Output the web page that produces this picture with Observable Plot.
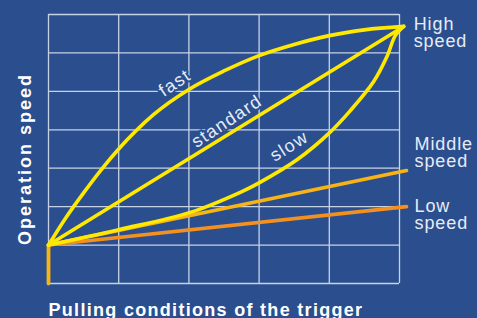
<!DOCTYPE html>
<html>
<head>
<meta charset="utf-8">
<script src="https://cdn.jsdelivr.net/npm/d3@7"></script>
<script src="https://cdn.jsdelivr.net/npm/@observablehq/plot@0.6"></script>
<style>
  html, body { margin: 0; padding: 0; background: #2b4f8e; }
  body { width: 477px; height: 318px; overflow: hidden; }
  svg { display: block; }
</style>
</head>
<body>
<div id="chart"></div>
<script>
// Grid positions (unlabeled)
const xGrid = [0, 1, 2, 3, 4, 5];
const yGrid = [0, 1, 2, 3, 4, 5, 6, 7];

// Curves
const fastX = [0, 0.25, 0.5, 0.75, 1.0, 1.5, 2.0, 2.5, 3.0, 3.5, 4.0, 4.5, 5.06];
const fastY = [1, 1.72, 2.36, 2.96, 3.5, 4.4, 5.05, 5.53, 5.93, 6.22, 6.45, 6.6, 6.69];
const standardX = [0, 5.06];
const standardY = [1, 6.69];
const slowX = [0, 1.0, 2.02, 2.74, 3.0, 3.54, 3.99, 4.3, 4.63, 4.82, 4.94, 5.06];
const slowY = [1, 1.4, 1.85, 2.38, 2.62, 3.22, 3.9, 4.5, 5.25, 5.9, 6.45, 6.69];
const middleX = [0, 5.1];
const middleY = [1, 2.94];
const lowX = [0, 5.1];
const lowY = [1, 2.0];
const startX = [0, 0];
const startY = [0, 1];

// Curve labels
const curveLabels = ["fast", "standard", "slow"];
const curveLabelX = [1.8, 2.54, 3.43];
const curveLabelY = [5.22, 4.22, 3.57];
const curveLabelAngle = [-33.5, -33.5, -32];

const xTitle = "Pulling conditions of the trigger";
const yTitle = "Operation speed";
const speedLabels = ["High\nspeed", "Middle\nspeed", "Low\nspeed"];

const BG = "#2b4f8e";
const GRID = "#c8d2e6";
const YELLOW = "#ffe900";
const AMBER = "#f8b316";
const ORANGE = "#f3901f";
const LABEL = "#e6ecf6";

const pts = (xs, ys) => xs.map((x, i) => ({x, y: ys[i]}));

const chart = Plot.plot({
  width: 477,
  height: 318,
  marginLeft: 48,
  marginRight: 78,
  marginTop: 14,
  marginBottom: 35,
  style: {background: BG, fontFamily: "Liberation Sans, Arial, sans-serif", overflow: "visible"},
  x: {domain: [0, 5], axis: null},
  y: {domain: [0, 7], axis: null},
  marks: [
    Plot.gridX(xGrid, {stroke: GRID, strokeOpacity: 1, strokeWidth: 1.3}),
    Plot.gridY(yGrid, {stroke: GRID, strokeOpacity: 1, strokeWidth: 1.3}),
    Plot.line(pts(lowX, lowY), {x: "x", y: "y", stroke: ORANGE, strokeWidth: 3.6}),
    Plot.line(pts(middleX, middleY), {x: "x", y: "y", stroke: AMBER, strokeWidth: 3.6}),
    Plot.line(pts(startX, startY), {x: "x", y: "y", stroke: AMBER, strokeWidth: 3.8}),
    Plot.line(pts(standardX, standardY), {x: "x", y: "y", stroke: YELLOW, strokeWidth: 3.6}),
    Plot.line(pts(fastX, fastY), {x: "x", y: "y", stroke: YELLOW, strokeWidth: 3.6, curve: "monotone-x"}),
    Plot.line(pts(slowX, slowY), {x: "x", y: "y", stroke: YELLOW, strokeWidth: 3.6, curve: "catmull-rom"}),
    Plot.text(curveLabels.map((t, i) => ({t, x: curveLabelX[i], y: curveLabelY[i], a: curveLabelAngle[i]})), {
      x: "x", y: "y", text: "t", rotate: "a", fill: LABEL, fontSize: 18,
      stroke: BG, strokeWidth: 4
    }),
    Plot.text([{t: speedLabels[0], x: standardX[1], y: standardY[1]}], {
      x: "x", y: "y", text: "t", textAnchor: "start", lineAnchor: "top", dx: 10, dy: -9,
      fill: LABEL, fontSize: 18, lineHeight: 0.95
    }),
    Plot.text([{t: speedLabels[1], x: middleX[1], y: middleY[1]}], {
      x: "x", y: "y", text: "t", textAnchor: "start", lineAnchor: "top", dx: 8, dy: -33,
      fill: LABEL, fontSize: 18, lineHeight: 0.95
    }),
    Plot.text([{t: speedLabels[2], x: lowX[1], y: lowY[1]}], {
      x: "x", y: "y", text: "t", textAnchor: "start", lineAnchor: "top", dx: 8, dy: -7,
      fill: LABEL, fontSize: 18, lineHeight: 0.95
    }),
    Plot.text([xTitle], {
      frameAnchor: "bottom-left", textAnchor: "start", lineAnchor: "bottom", dy: 32,
      fill: "white", fontSize: 18, fontWeight: "bold"
    }),
    Plot.text([yTitle], {
      frameAnchor: "left", textAnchor: "middle", rotate: -90, dx: -23, dy: 10,
      fill: "white", fontSize: 18, fontWeight: "bold"
    })
  ]
});

// letter spacing to match the wider typeface of the reference
const spacing = new Map([
  [xTitle, "1.3px"], [yTitle, "2px"],
  ["fast", "1.3px"], ["standard", "1.3px"], ["slow", "1.3px"]
]);
d3.select(chart).selectAll("text").each(function() {
  const s = spacing.get(this.textContent);
  if (s) this.setAttribute("letter-spacing", s);
});
d3.select(chart).selectAll("tspan").each(function() {
  this.setAttribute("letter-spacing", "0.9px");
});

document.getElementById("chart").appendChild(chart);
</script>
</body>
</html>
